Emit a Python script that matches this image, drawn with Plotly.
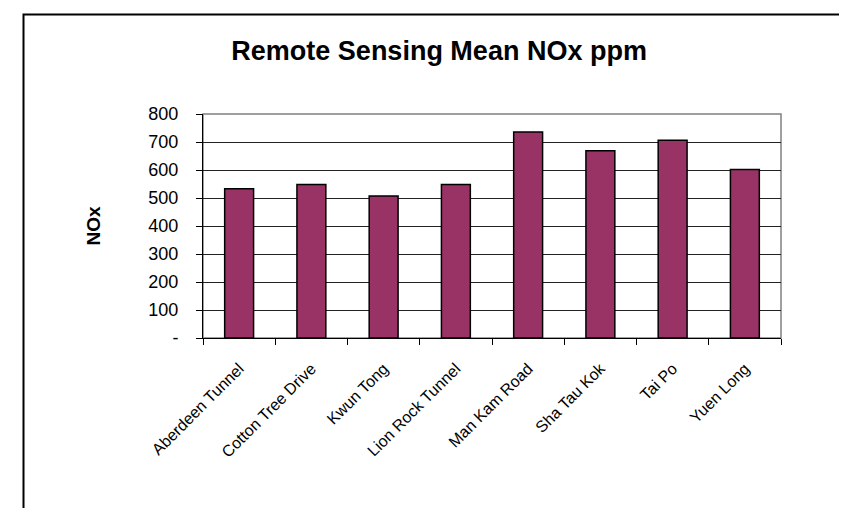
import plotly.graph_objects as go

# %%
sites = ["Aberdeen Tunnel", "Cotton Tree Drive", "Kwun Tong", "Lion Rock Tunnel",
         "Man Kam Road", "Sha Tau Kok", "Tai Po", "Yuen Long"]
nox_ppm = [533, 548, 507, 548, 736, 669, 706, 602]

y_ticks = [0, 100, 200, 300, 400, 500, 600, 700, 800]
y_tick_text = ["-", "100", "200", "300", "400", "500", "600", "700", "800"]

# %%
W, H = 847, 508
L, R, T, B = 195, 74, 106, 178
pw, ph = W - L - R, H - T - B

def px(x):
    return (x - L) / pw

def py(y):
    return (H - B - y) / ph

font = "Liberation Sans, Arial, sans-serif"

fig = go.Figure()
fig.add_trace(
    go.Bar(
        x=sites
        , y=nox_ppm
        , marker=dict(color="#993366", line=dict(color="black", width=1.5))
    )
)

fig.update_layout(
    width=W, height=H
    , margin=dict(l=L, r=R, t=T, b=B)
    , paper_bgcolor="white", plot_bgcolor="white"
    , font=dict(family=font, color="black", size=16)
    , title=dict(text="<b>Remote Sensing Mean NOx ppm</b>", x=0.509, xanchor="center"
                 , y=1 - 43 / H, yanchor="middle", font=dict(size=27))
    , bargap=0.6
    , showlegend=False
    , shapes=[
        # grey plot-area frame
        dict(type="rect", xref="paper", yref="paper", x0=0, x1=1, y0=0, y1=1
             , line=dict(color="#808080", width=1.5), layer="below")
        # outer chart frame (cut off at right and bottom)
        , dict(type="path", xref="paper", yref="paper"
               , path=f"M {px(15.5)} {py(H + 10)} L {px(15.5)} {py(6.5)} L {px(W + 10)} {py(6.5)}"
               , line=dict(color="black", width=2))
    ]
)
fig.update_xaxes(
    tickangle=-45, tickson="boundaries", ticks="outside", ticklen=6
    , tickcolor="black", showline=True, linecolor="black", linewidth=1
    , tickfont=dict(size=16), ticklabelstandoff=14
)
fig.update_yaxes(
    range=[0, 800], tickvals=y_ticks, ticktext=y_tick_text
    , ticks="outside", ticklen=6, tickcolor="black"
    , showline=True, linecolor="black", linewidth=1
    , showgrid=True, gridcolor="#222222", gridwidth=1
    , zeroline=False
    , tickfont=dict(size=18), ticklabelstandoff=14
    , title=dict(text="<b>NOx</b>", font=dict(size=19), standoff=42)
)

fig.write_html("out.html")
